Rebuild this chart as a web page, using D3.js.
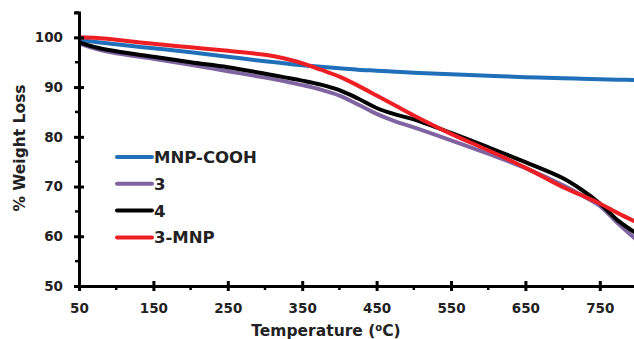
<!DOCTYPE html>
<html>
<head>
<meta charset="utf-8">
<script src="https://cdn.jsdelivr.net/npm/d3@7"></script>
<style>
  body { margin: 0; background: #fff; }
  svg text { font-family: "DejaVu Sans", sans-serif; font-weight: bold; fill: #222; }
</style>
</head>
<body>
<div id="chart"></div>
<script>
// data (temperature in ºC, weight in %)
const temps = [50, 75, 100, 150, 200, 250, 300, 325, 350, 375, 400, 425, 450, 475, 500, 550, 600, 650, 700, 725, 750, 775, 800];

const mnpCooh = [99.5, 99.0, 98.6, 97.8, 97.0, 96.1, 95.2, 94.8, 94.4, 94.1, 93.8, 93.5, 93.3, 93.1, 92.9, 92.6, 92.3, 92.0, 91.8, 91.7, 91.6, 91.5, 91.4];
const comp3 = [98.8, 97.6, 96.8, 95.7, 94.5, 93.2, 91.9, 91.2, 90.4, 89.5, 88.3, 86.5, 84.6, 83.1, 81.9, 79.3, 76.6, 73.7, 70.3, 68.3, 66.1, 62.5, 59.2];
const comp4 = [99.0, 97.9, 97.2, 96.1, 95.0, 94.0, 92.7, 92.0, 91.3, 90.5, 89.4, 87.7, 85.8, 84.5, 83.5, 80.8, 77.9, 74.9, 71.7, 69.4, 66.6, 63.1, 60.5];
const mnp3 = [100.0, 99.85, 99.5, 98.7, 98.0, 97.3, 96.5, 95.8, 94.8, 93.5, 92.1, 90.3, 88.3, 86.3, 84.3, 80.6, 77.3, 73.8, 69.9, 68.3, 66.6, 64.6, 62.8];

const seriesNames = ["MNP-COOH", "3", "4", "3-MNP"];
const seriesColors = ["#1f70b9", "#8064a2", "#000000", "#ed1f24"];
const seriesValues = [mnpCooh, comp3, comp4, mnp3];

const xTicks = [50, 150, 250, 350, 450, 550, 650, 750];
const xMinor = [100, 200, 300, 400, 500, 600, 700];
const yTicks = [50, 60, 70, 80, 90, 100];
const yMinor = [55, 65, 75, 85, 95, 105];

const width = 634;
const height = 339;

const svg = d3.select("#chart")
  .append("svg")
  .attr("width", width)
  .attr("height", height);

const x = d3.scaleLinear().domain([50, 800]).range([79, 637]);
const y = d3.scaleLinear().domain([50, 105]).range([286, 12.5]);

// lines (blue, purple, black, then red on top)
const line = d3.line()
  .x(d => x(d[0]))
  .y(d => y(d[1]))
  .curve(d3.curveCatmullRom.alpha(0.5));

seriesValues.forEach((vals, i) => {
  svg.append("path")
    .datum(temps.map((t, j) => [t, vals[j]]))
    .attr("fill", "none")
    .attr("stroke", seriesColors[i])
    .attr("stroke-width", 4)
    .attr("stroke-linejoin", "round")
    .attr("d", line);
});

// minor ticks
svg.append("g").selectAll("line")
  .data(xMinor)
  .enter().append("line")
  .attr("x1", d => x(d)).attr("x2", d => x(d))
  .attr("y1", 286).attr("y2", 290)
  .attr("stroke", "#000").attr("stroke-width", 2.5);

svg.append("g").selectAll("line")
  .data(yMinor)
  .enter().append("line")
  .attr("y1", d => y(d)).attr("y2", d => y(d))
  .attr("x1", 75).attr("x2", 79)
  .attr("stroke", "#000").attr("stroke-width", 2.5);

// x axis
const xAxis = svg.append("g")
  .attr("transform", "translate(0, 286)")
  .call(d3.axisBottom(x).tickValues(xTicks).tickSizeOuter(0).tickSize(5));

xAxis.select(".domain").attr("stroke-width", 3);
xAxis.selectAll(".tick line").attr("y1", -5).attr("y2", 5).attr("stroke-width", 3);
xAxis.selectAll(".tick text")
  .attr("y", 17)
  .style("font-size", "13.5px")
  .style("font-family", "DejaVu Sans")
  .style("font-weight", "bold")
  .attr("fill", "#222");

// y axis
const yAxis = svg.append("g")
  .attr("transform", "translate(79, 0)")
  .call(d3.axisLeft(y).tickValues(yTicks).tickSizeOuter(0).tickSize(5));

yAxis.select(".domain").attr("stroke-width", 3);
yAxis.selectAll(".tick line").attr("x1", -5).attr("x2", 5).attr("stroke-width", 3);
yAxis.selectAll(".tick text")
  .attr("x", -16)
  .style("font-size", "13.5px")
  .style("font-family", "DejaVu Sans")
  .style("font-weight", "bold")
  .attr("fill", "#222");

// axis titles
const xLabel = svg.append("text")
  .attr("x", 326)
  .attr("y", 336)
  .style("text-anchor", "middle")
  .style("font-size", "15.5px");
xLabel.append("tspan").text("Temperature (");
xLabel.append("tspan").text("o").style("font-size", "10px").attr("dy", -5);
xLabel.append("tspan").text("C)").attr("dy", 5);

svg.append("text")
  .attr("transform", "rotate(-90)")
  .attr("x", -148)
  .attr("y", 25)
  .style("text-anchor", "middle")
  .style("font-size", "15.5px")
  .text("% Weight Loss");

// legend
const legend = svg.append("g").attr("transform", "translate(117, 157)");

seriesNames.forEach((name, i) => {
  legend.append("line")
    .attr("x1", 0).attr("x2", 35)
    .attr("y1", i * 26.8).attr("y2", i * 26.8)
    .attr("stroke", seriesColors[i])
    .attr("stroke-width", 4)
    .attr("stroke-linecap", "round");

  legend.append("text")
    .attr("x", 37)
    .attr("y", i * 26.8)
    .attr("dy", "0.36em")
    .style("font-size", "16.5px")
    .text(name);
});
</script>
</body>
</html>
